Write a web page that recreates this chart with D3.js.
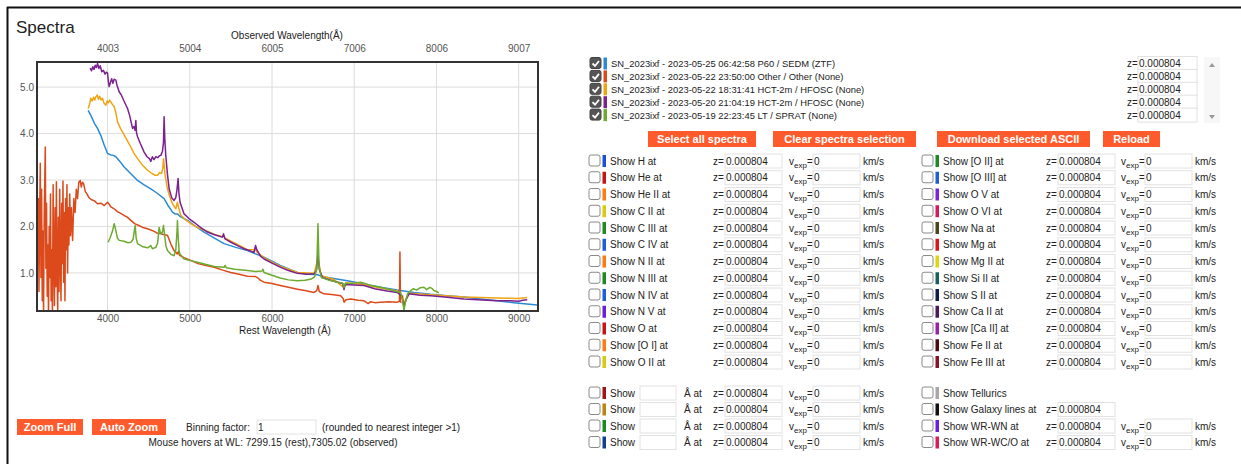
<!DOCTYPE html>
<html>
<head>
<meta charset="utf-8">
<title>Spectra</title>
<style>
  html, body { margin: 0; padding: 0; background: #fff; }
  svg text { font-family: "Liberation Sans", Arial, sans-serif; fill: #222; }
</style>
</head>
<body>
<svg id="page" width="1241" height="464"></svg>
<script src="https://cdn.jsdelivr.net/npm/d3@7/dist/d3.min.js"></script>
<script>
// ---- data ----
var redshift = 0.000804;
var restTicks = [4000, 5000, 6000, 7000, 8000, 9000];
var obsTicks = [4003, 5004, 6005, 7006, 8006, 9007];
var fluxTicks = [1.0, 2.0, 3.0, 4.0, 5.0];

// [rest wavelength (A), flux]
var specP60 = [[3764,4.50],[3800,4.38],[3840,4.22],[3878,4.11],[3920,3.95],[3960,3.75],[4000,3.57],[4040,3.54],[4070,3.53],[4101,3.50],[4150,3.40],[4202,3.28],[4280,3.14],[4365,2.99],[4440,2.90],[4526,2.81],[4600,2.72],[4688,2.60],[4740,2.44],[4790,2.31],[4820,2.27],[4850,2.27],[4880,2.22],[4972,2.13],[5070,2.00],[5174,1.88],[5300,1.75],[5417,1.63],[5560,1.55],[5701,1.48],[5800,1.41],[5903,1.34],[6100,1.16],[6309,1.01],[6450,0.97],[6552,0.96],[6620,0.92],[6750,0.88],[6917,0.83],[7120,0.76],[7321,0.69],[7520,0.63],[7726,0.58],[7930,0.54],[8131,0.51],[8336,0.48],[8536,0.44],[8740,0.40],[8941,0.36],[9100,0.33],[9225,0.31]];

var specOther = [[3150,1.2],[3158,2.6],[3166,0.6],[3174,2.2],[3182,3.36],[3190,0.9],[3198,2.8],[3206,0.4],[3214,1.9],[3222,0.1],[3230,2.3],[3243,3.71],[3250,1.1],[3258,2.5],[3266,0.5],[3274,1.6],[3282,0.1],[3290,2.0],[3298,0.9],[3306,2.7],[3314,0.4],[3322,1.5],[3330,0.1],[3338,2.9],[3346,1.3],[3354,0.3],[3362,2.4],[3370,0.7],[3378,2.96],[3386,1.0],[3394,0.2],[3402,2.2],[3410,0.6],[3418,2.8],[3426,1.4],[3434,0.4],[3442,2.5],[3450,1.2],[3458,2.98],[3466,0.8],[3474,2.3],[3482,0.4],[3490,2.6],[3498,1.5],[3506,2.9],[3514,1.0],[3522,2.4],[3530,1.6],[3540,2.7],[3550,1.8],[3560,2.4],[3575,1.7],[3590,2.6],[3605,2.3],[3620,2.8],[3635,2.6],[3650,2.95],[3668,2.99],[3680,2.85],[3695,2.95],[3709,2.92],[3730,2.75],[3750,2.70],[3770,2.63],[3800,2.58],[3840,2.55],[3878,2.49],[3920,2.50],[3960,2.45],[4000,2.52],[4020,2.48],[4040,2.42],[4081,2.38],[4120,2.32],[4160,2.28],[4200,2.24],[4240,2.20],[4283,2.13],[4330,2.06],[4380,2.02],[4440,1.97],[4486,1.95],[4560,1.90],[4600,1.86],[4648,1.84],[4690,1.82],[4729,1.81],[4770,1.62],[4809,1.48],[4850,1.41],[4862,1.46],[4875,1.38],[4930,1.33],[5012,1.27],[5100,1.20],[5200,1.16],[5296,1.12],[5400,1.06],[5498,1.01],[5600,0.97],[5700,0.93],[5800,0.92],[5822,0.90],[5860,0.84],[5903,0.80],[6000,0.77],[6100,0.73],[6200,0.69],[6309,0.65],[6400,0.62],[6511,0.58],[6545,0.62],[6559,0.73],[6575,0.60],[6632,0.55],[6750,0.53],[6835,0.51],[6865,0.45],[6876,0.37],[6900,0.42],[6957,0.44],[7050,0.41],[7119,0.40],[7170,0.34],[7200,0.38],[7250,0.36],[7321,0.37],[7420,0.38],[7524,0.37],[7550,0.39],[7556,1.45],[7562,0.38],[7575,0.36]];

var specHct22 = [[3764,4.54],[3780,4.62],[3797,4.76],[3812,4.70],[3830,4.78],[3845,4.72],[3858,4.79],[3875,4.83],[3890,4.74],[3905,4.80],[3920,4.72],[3939,4.76],[3955,4.66],[3979,4.61],[3995,4.70],[4010,4.66],[4025,4.72],[4040,4.68],[4060,4.62],[4081,4.58],[4100,4.45],[4122,4.25],[4160,4.10],[4202,3.97],[4240,3.85],[4283,3.71],[4320,3.58],[4365,3.46],[4420,3.33],[4486,3.21],[4540,3.14],[4580,3.10],[4608,3.10],[4630,3.16],[4656,3.14],[4672,3.25],[4680,3.46],[4690,3.30],[4700,3.10],[4729,2.81],[4760,2.62],[4790,2.49],[4830,2.38],[4850,2.52],[4865,2.40],[4891,2.24],[4950,2.14],[5012,2.06],[5100,1.97],[5215,1.90],[5300,1.83],[5397,1.78],[5412,1.82],[5430,1.75],[5550,1.64],[5700,1.50],[5800,1.50],[5820,1.44],[5903,1.33],[6000,1.23],[6106,1.14],[6309,1.01],[6511,0.99],[6559,1.30],[6600,0.94],[6750,0.86],[6876,0.68],[6895,0.79],[7000,0.77],[7119,0.75],[7300,0.68],[7524,0.61],[7590,0.50],[7605,0.30],[7630,0.45],[7666,0.56],[7929,0.53],[8334,0.48],[8739,0.46],[9000,0.45],[9104,0.47]];

var specHct20 = [[3789,5.41],[3805,5.35],[3820,5.44],[3835,5.38],[3850,5.47],[3865,5.42],[3878,5.51],[3895,5.40],[3910,5.46],[3930,5.33],[3950,5.36],[3970,5.28],[3985,5.32],[4000,5.30],[4010,5.12],[4020,5.01],[4035,5.10],[4050,5.18],[4065,5.08],[4080,5.17],[4101,5.15],[4115,5.04],[4141,4.90],[4170,4.82],[4200,4.70],[4243,4.54],[4270,4.38],[4290,4.22],[4304,4.11],[4320,4.15],[4335,4.07],[4344,4.28],[4352,4.02],[4365,3.93],[4400,3.78],[4445,3.60],[4480,3.50],[4510,3.46],[4526,3.40],[4545,3.50],[4565,3.44],[4587,3.50],[4610,3.48],[4630,3.52],[4648,3.53],[4668,3.62],[4680,3.80],[4688,4.36],[4696,3.90],[4708,3.53],[4730,3.10],[4749,2.81],[4780,2.62],[4809,2.56],[4830,2.62],[4845,2.80],[4858,3.03],[4868,2.72],[4882,2.52],[4931,2.27],[4990,2.17],[5052,2.09],[5130,1.98],[5215,1.88],[5300,1.82],[5397,1.77],[5410,1.84],[5425,1.74],[5500,1.66],[5600,1.57],[5660,1.52],[5740,1.47],[5781,1.44],[5800,1.59],[5815,1.50],[5860,1.36],[5903,1.30],[6000,1.21],[6106,1.12],[6200,1.05],[6309,0.99],[6420,0.97],[6511,0.98],[6540,1.05],[6559,1.41],[6575,1.08],[6613,0.90],[6750,0.82],[6860,0.77],[6876,0.64],[6890,0.75],[7000,0.74],[7119,0.73],[7250,0.66],[7400,0.61],[7524,0.58],[7580,0.50],[7605,0.26],[7625,0.40],[7666,0.55],[7800,0.52],[7929,0.51],[8100,0.48],[8334,0.44],[8500,0.42],[8739,0.40],[8900,0.40],[9000,0.39],[9050,0.41],[9104,0.42]];

var specLT = [[4007,1.66],[4030,1.75],[4060,1.90],[4081,2.06],[4100,1.92],[4120,1.75],[4142,1.70],[4200,1.68],[4250,1.65],[4283,1.66],[4310,1.72],[4325,1.90],[4336,2.02],[4348,1.75],[4365,1.63],[4420,1.57],[4486,1.54],[4505,1.56],[4526,1.59],[4545,1.52],[4587,1.55],[4610,1.65],[4627,1.98],[4640,1.88],[4656,1.84],[4670,1.90],[4680,2.02],[4695,1.80],[4710,1.58],[4729,1.48],[4770,1.40],[4809,1.37],[4830,1.50],[4845,1.90],[4850,2.13],[4858,1.80],[4870,1.48],[4878,1.41],[4931,1.30],[5000,1.27],[5093,1.23],[5200,1.18],[5300,1.14],[5417,1.12],[5430,1.16],[5445,1.11],[5550,1.08],[5701,1.05],[5800,1.03],[5880,1.04],[5890,1.08],[5903,1.01],[6000,0.95],[6100,0.89],[6200,0.85],[6309,0.83],[6400,0.84],[6480,0.87],[6520,0.92],[6545,1.10],[6559,2.06],[6572,1.15],[6600,0.90],[6700,0.84],[6800,0.80],[6860,0.78],[6876,0.68],[6892,0.77],[6990,0.78],[7079,0.80],[7120,0.78],[7200,0.73],[7321,0.69],[7450,0.63],[7564,0.58],[7590,0.40],[7605,0.19],[7620,0.35],[7650,0.55],[7686,0.62],[7720,0.66],[7760,0.63],[7800,0.68],[7848,0.69],[7880,0.64],[7920,0.69],[7950,0.66],[7969,0.62],[8000,0.60],[8030,0.57]];

var spectraLabels = [
  "SN_2023ixf - 2023-05-25 06:42:58 P60 / SEDM (ZTF)",
  "SN_2023ixf - 2023-05-22 23:50:00 Other / Other (None)",
  "SN_2023ixf - 2023-05-22 18:31:41 HCT-2m / HFOSC (None)",
  "SN_2023ixf - 2023-05-20 21:04:19 HCT-2m / HFOSC (None)",
  "SN_2023ixf - 2023-05-19 22:23:45 LT / SPRAT (None)"
];
var spectraColors = ["#2b8ad4", "#dc4a1c", "#f0a413", "#7b2190", "#6cab2f"];

var ionsLeft = ["H", "He", "He II", "C II", "C III", "C IV", "N II", "N III", "N IV", "N V", "O", "[O I]", "O II"];
var ionColorsLeft = ["#1d50d6", "#c41414", "#ff7a10", "#d4cc10", "#1e8a22", "#1d5fd6", "#ff7a10", "#1e8a22", "#1d5fd6", "#6a1ed8", "#c41414", "#ff7a10", "#d4cc10"];
var ionsRight = ["[O II]", "[O III]", "O V", "O VI", "Na", "Mg", "Mg II", "Si II", "S II", "Ca II", "[Ca II]", "Fe II", "Fe III"];
var ionColorsRight = ["#1e8a22", "#1d5fd6", "#7a22e0", "#d81a5a", "#4a4716", "#e01414", "#dcd810", "#18605a", "#0e1a4a", "#4c1a5c", "#9c1fa8", "#4a0a12", "#8a1224"];
var customColors = ["#a01414", "#b8860b", "#1e8a22", "#12408e"];
var extraLabels = ["Show Tellurics", "Show Galaxy lines at", "Show WR-WN at", "Show WR-WC/O at"];
var extraColors = ["#a8a8a8", "#111111", "#6a1ee0", "#e01a5a"];

var spectraButtons = ["Select all spectra", "Clear spectra selection", "Download selected ASCII", "Reload"];
var zoomButtons = ["Zoom Full", "Auto Zoom"];

// ---- page ----
var svg = d3.select("#page");
var btnColor = "#ff5a2c";

// outer page border (left + top)
svg.append("line").attr("x1", 7).attr("x2", 1241).attr("y1", 7.5).attr("y2", 7.5).attr("stroke", "#111").attr("stroke-width", 2);
svg.append("line").attr("x1", 7.5).attr("x2", 7.5).attr("y1", 7).attr("y2", 464).attr("stroke", "#111").attr("stroke-width", 2);

svg.append("text").attr("x", 16).attr("y", 33).attr("font-size", 17).text("Spectra");

// ---- chart ----
var plotL = 37, plotR = 538, plotT = 62, plotB = 311;
var x = d3.scaleLinear().domain([3142, 9235]).range([plotL, plotR]);
var y = d3.scaleLinear().domain([0.18, 5.54]).range([plotB, plotT]);

var chart = svg.append("g");

chart.append("g").selectAll("line").data(restTicks).enter().append("line")
  .attr("x1", function (d) { return x(d); }).attr("x2", function (d) { return x(d); })
  .attr("y1", plotT).attr("y2", plotB).attr("stroke", "#dcdcdc");
chart.append("g").selectAll("line").data(fluxTicks).enter().append("line")
  .attr("x1", plotL).attr("x2", plotR)
  .attr("y1", function (d) { return y(d); }).attr("y2", function (d) { return y(d); })
  .attr("stroke", "#dcdcdc");

var xAxis = d3.axisBottom(x).tickValues(restTicks).tickSize(0).tickPadding(4).tickFormat(d3.format("d"));
var gx = chart.append("g").attr("transform", "translate(0," + plotB + ")").call(xAxis);
var topScale = d3.scaleLinear().domain([x.domain()[0] * (1 + redshift), x.domain()[1] * (1 + redshift)]).range([plotL, plotR]);
var xTop = d3.axisTop(topScale).tickValues(obsTicks).tickSize(0).tickPadding(10).tickFormat(d3.format("d"));
var gxt = chart.append("g").attr("transform", "translate(0," + plotT + ")").call(xTop);
var yAxis = d3.axisLeft(y).tickValues(fluxTicks).tickSize(0).tickPadding(3).tickFormat(d3.format(".1f"));
var gy = chart.append("g").attr("transform", "translate(" + plotL + ",0)").call(yAxis);
[gx, gxt, gy].forEach(function (g) {
  g.select(".domain").remove();
  g.selectAll("text").attr("font-size", 10).attr("font-family", "Liberation Sans, Arial, sans-serif").style("fill", "#555");
});

chart.append("text").attr("x", 287).attr("y", 39).attr("text-anchor", "middle").attr("font-size", 10).text("Observed Wavelength(\u00c5)");
chart.append("text").attr("x", 285).attr("y", 334).attr("text-anchor", "middle").attr("font-size", 10).text("Rest Wavelength (\u00c5)");

svg.append("clipPath").attr("id", "plotclip").append("rect")
  .attr("x", plotL).attr("y", plotT).attr("width", plotR - plotL).attr("height", plotB - plotT);

var line = d3.line().x(function (d) { return x(d[0]); }).y(function (d) { return y(d[1]); });
var series = [specP60, specOther, specHct22, specHct20, specLT];
chart.append("g").attr("clip-path", "url(#plotclip)").selectAll("path").data(series).enter().append("path")
  .attr("d", line).attr("fill", "none")
  .attr("stroke", function (d, i) { return spectraColors[i]; })
  .attr("stroke-width", 1.5).attr("stroke-linejoin", "round");

chart.append("rect").attr("x", plotL).attr("y", plotT).attr("width", plotR - plotL).attr("height", plotB - plotT)
  .attr("fill", "none").attr("stroke", "#333").attr("stroke-width", 2);

// ---- helpers for the form widgets ----
function checkbox(g, cx, cy, checked) {
  g.append("rect").attr("x", cx).attr("y", cy - 6).attr("width", 11).attr("height", 11).attr("rx", 2)
    .attr("fill", checked ? "#555" : "#fff").attr("stroke", checked ? "#444" : "#8a8a8a").attr("stroke-width", 1);
  if (checked) {
    g.append("path").attr("d", "M" + (cx + 2.5) + "," + (cy) + " l2.5,2.5 l4,-5")
      .attr("fill", "none").attr("stroke", "#fff").attr("stroke-width", 1.8);
  }
}
function colorBar(g, bx, cy, color) {
  g.append("rect").attr("x", bx).attr("y", cy - 6).attr("width", 3.5).attr("height", 12).attr("fill", color);
}
function inputBox(g, bx, cy, w, value) {
  g.append("rect").attr("x", bx).attr("y", cy - 7).attr("width", w).attr("height", 14)
    .attr("fill", "#fff").attr("stroke", "#e2e2e2");
  if (value !== "") {
    g.append("text").attr("x", bx + 1).attr("y", cy + 3.5).attr("font-size", 10).text(value);
  }
}
function label(g, tx, cy, s, size) {
  g.append("text").attr("x", tx).attr("y", cy + 3.5).attr("font-size", size || 10).text(s);
}
function zField(g, zx, cy) {
  label(g, zx, cy, "z=");
  inputBox(g, zx + 12, cy, 57, redshift.toFixed(6));
}
function vField(g, vx, cy) {
  var t = g.append("text").attr("x", vx).attr("y", cy + 3.5).attr("font-size", 10);
  t.append("tspan").text("v");
  t.append("tspan").attr("dy", 3).attr("font-size", 8).text("exp");
  t.append("tspan").attr("dy", -3).text("=");
  inputBox(g, vx + 24, cy, 47, "0");
  label(g, vx + 74, cy, "km/s");
}
function button(g, bx, cy, w, s) {
  g.append("rect").attr("x", bx).attr("y", cy - 8).attr("width", w).attr("height", 16).attr("fill", btnColor);
  g.append("text").attr("x", bx + w / 2).attr("y", cy + 4).attr("text-anchor", "middle")
    .attr("font-size", 11).attr("font-weight", "bold").style("fill", "#fff").text(s);
}

var panel = svg.append("g");

// ---- spectra list ----
panel.append("rect").attr("x", 1204).attr("y", 57).attr("width", 16).attr("height", 66).attr("fill", "#f7f7f7");
spectraLabels.forEach(function (s, i) {
  var cy = 63.5 + i * 12.9;
  checkbox(panel, 590, cy, true);
  colorBar(panel, 603.5, cy, spectraColors[i]);
  label(panel, 611, cy, s, 9.4);
  label(panel, 1127, cy, "z=");
  inputBox(panel, 1138, cy, 59, redshift.toFixed(6));
});
panel.append("path").attr("d", "M1209,67 l3,-4 l3,4 z").attr("fill", "#999");
panel.append("path").attr("d", "M1209,115 l3,4 l3,-4 z").attr("fill", "#999");

var btnX = [648, 773, 937, 1103], btnW = [108, 143, 153, 57];
spectraButtons.forEach(function (s, i) { button(panel, btnX[i], 139, btnW[i], s); });

// ---- line identification rows ----
ionsLeft.forEach(function (s, i) {
  var cy = 161 + i * 16.75;
  checkbox(panel, 589, cy, false);
  colorBar(panel, 602.5, cy, ionColorsLeft[i]);
  label(panel, 610, cy, "Show " + s + " at");
  zField(panel, 713, cy);
  vField(panel, 789, cy);
});
ionsRight.forEach(function (s, i) {
  var cy = 161 + i * 16.75;
  checkbox(panel, 922, cy, false);
  colorBar(panel, 935.5, cy, ionColorsRight[i]);
  label(panel, 943, cy, "Show " + s + " at");
  zField(panel, 1046, cy);
  vField(panel, 1121, cy);
});

// custom wavelength rows and extras
customColors.forEach(function (c, i) {
  var cy = 393 + i * 16.5;
  checkbox(panel, 589, cy, false);
  colorBar(panel, 602.5, cy, c);
  label(panel, 610, cy, "Show");
  inputBox(panel, 640, cy, 36, "");
  label(panel, 684, cy, "\u00c5 at");
  zField(panel, 713, cy);
  vField(panel, 789, cy);
});
extraLabels.forEach(function (s, i) {
  var cy = 393 + i * 16.5;
  checkbox(panel, 922, cy, false);
  colorBar(panel, 935.5, cy, extraColors[i]);
  label(panel, 943, cy, s);
  if (i > 0) zField(panel, 1046, cy);
  if (i > 1) vField(panel, 1121, cy);
});

// ---- bottom-left controls ----
button(panel, 17, 427, 66, zoomButtons[0]);
button(panel, 92, 427, 74, zoomButtons[1]);
label(panel, 186, 427, "Binning factor:");
inputBox(panel, 257, 427, 59, "1");
label(panel, 322, 427, "(rounded to nearest integer >1)");
panel.append("text").attr("x", 273).attr("y", 445.5).attr("text-anchor", "middle").attr("font-size", 10)
  .text("Mouse hovers at WL: 7299.15 (rest),7305.02 (observed)");
</script>
</body>
</html>
